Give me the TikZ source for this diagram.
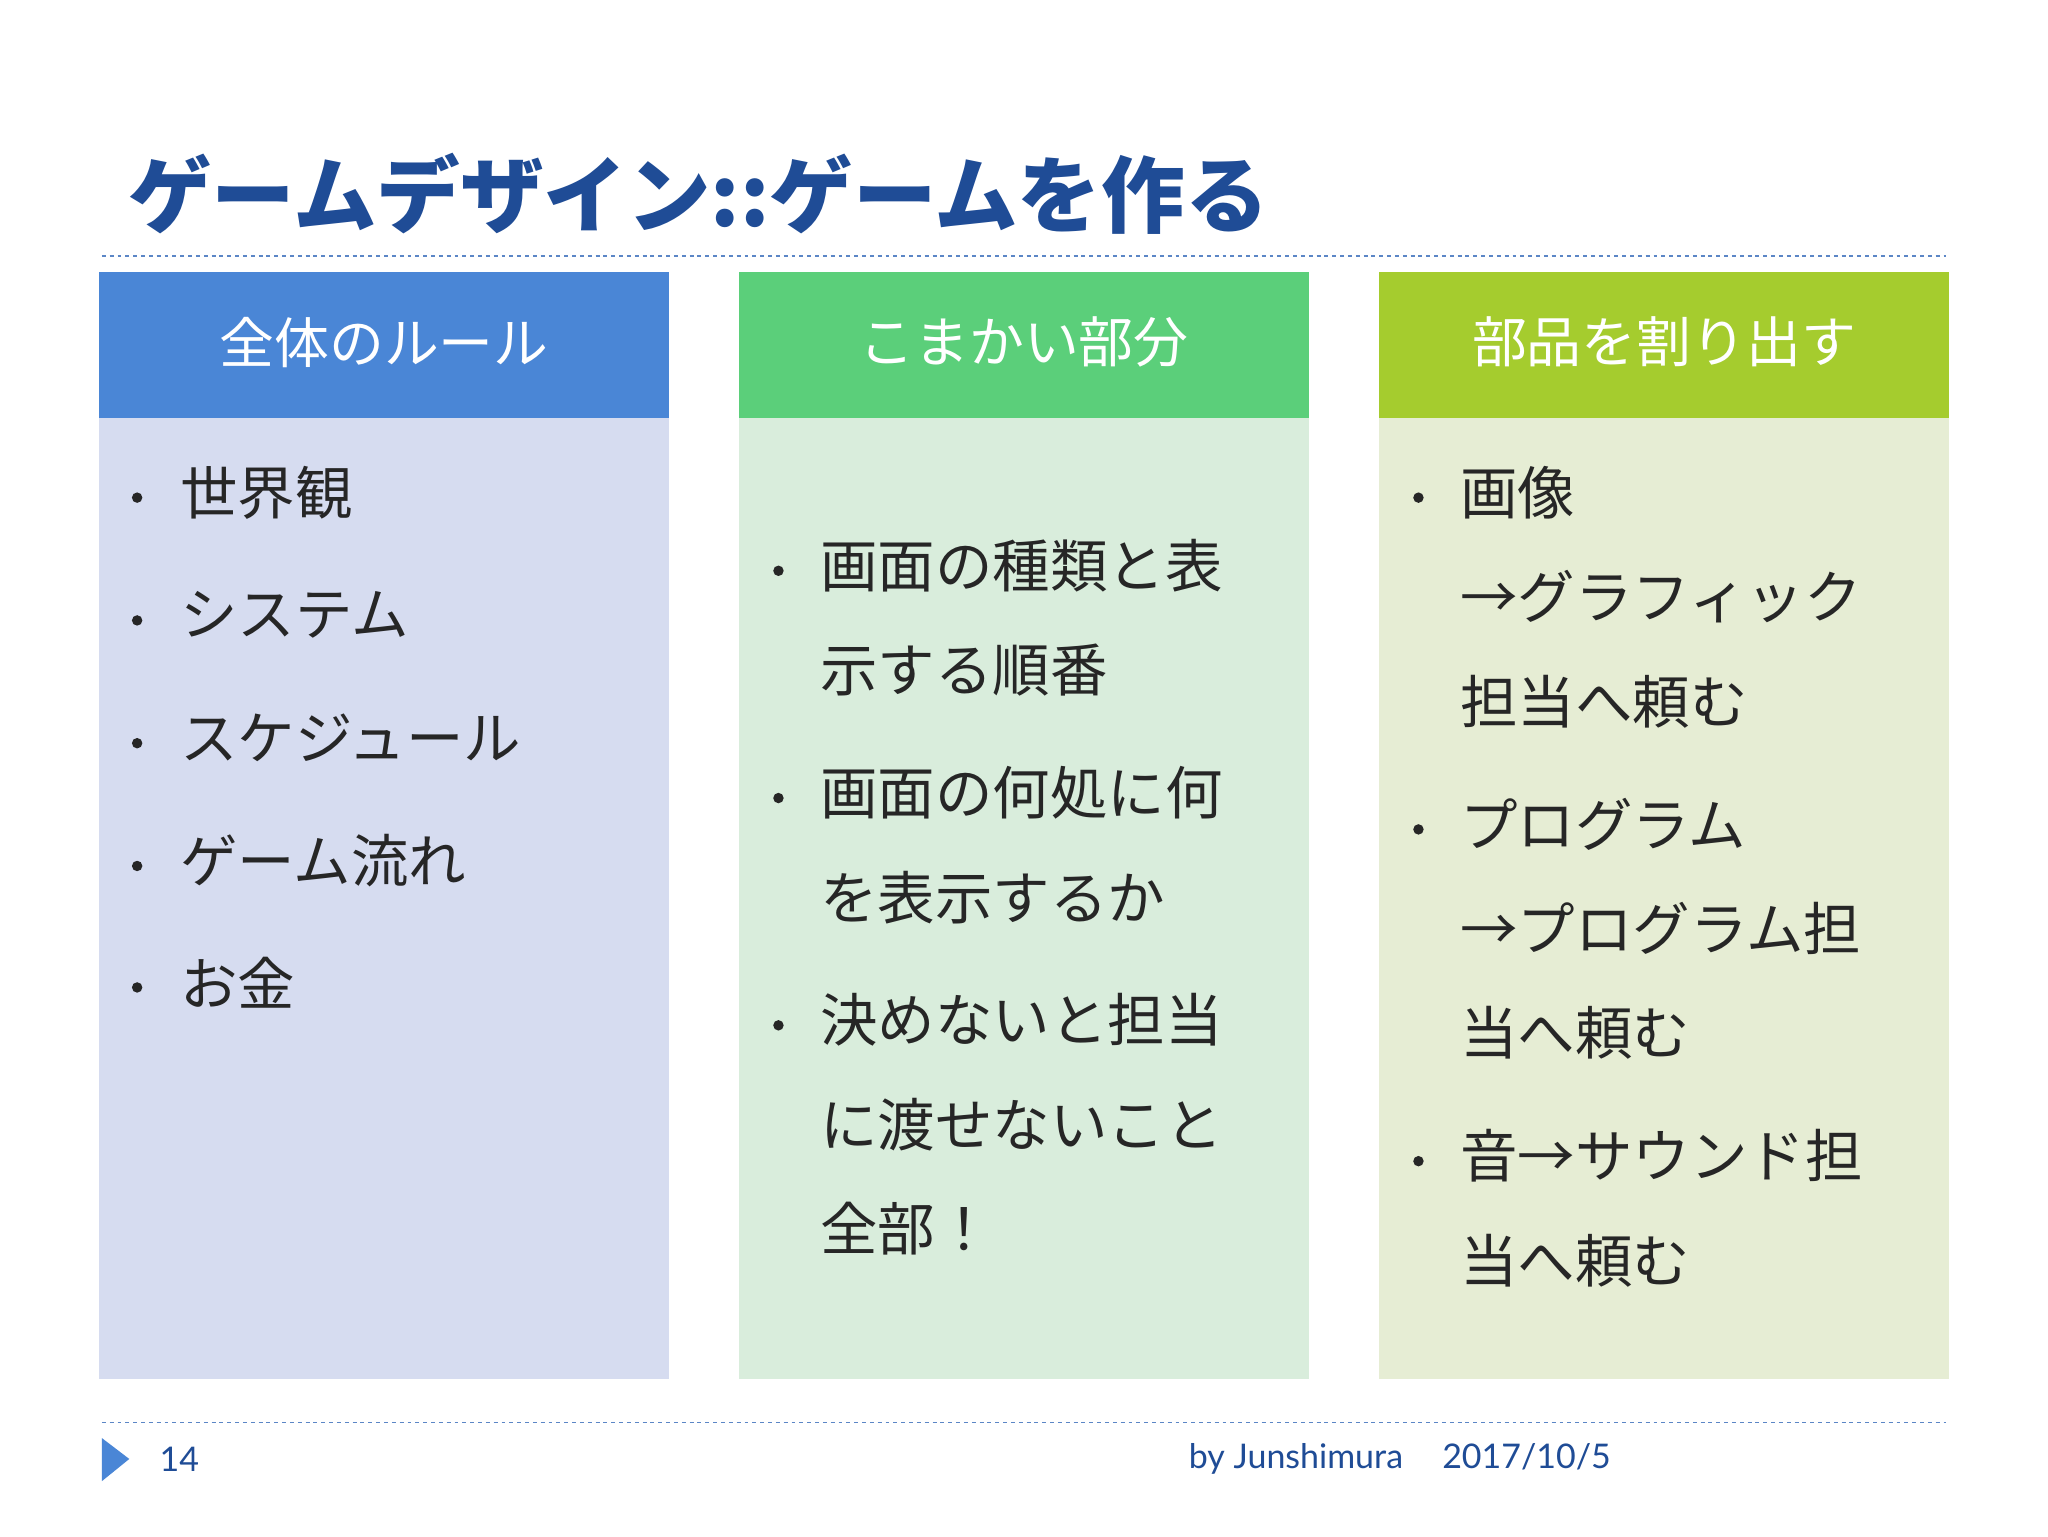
\documentclass[tikz,border=0pt]{standalone}
\usepackage{fontspec}
\setmainfont{Noto Sans CJK JP}
\newfontfamily\foot{Lato}
\definecolor{ttl}{HTML}{1F4C96}
\definecolor{hA}{HTML}{4A86D6}
\definecolor{hB}{HTML}{5BCF7A}
\definecolor{hC}{HTML}{A5CC2E}
\definecolor{bA}{HTML}{D6DCF0}
\definecolor{bB}{HTML}{D9EDDC}
\definecolor{bC}{HTML}{E6EDD4}
\definecolor{dsh}{HTML}{5B86C6}
\begin{document}
\begin{tikzpicture}[x=1pt,y=-1pt,
  hd/.style={text=white,font=\fontsize{42}{46}\selectfont},
  ln/.style={anchor=west,inner sep=0,font=\fontsize{44}{48}\selectfont,text=black!85},
  bl/.style={circle,fill=black!85,inner sep=0,minimum size=8pt}]
\useasboundingbox (0,0) rectangle (1568,1176);
\fill[white] (0,0) rectangle (1568,1176);
\node[anchor=west,inner sep=0,text=ttl,font=\fontsize{64}{68}\selectfont\bfseries] (title) at (98,148) {ゲームデザイン::ゲームを作る};
\draw[dsh,dashed,line width=1.2pt] (78,196) -- (1490,196);
\draw[dsh,dashed,line width=1.2pt] (78,1089) -- (1490,1089);
% columns
\fill[bA] (76,320) rectangle (512,1056);
\fill[hA] (76,208) rectangle (512,320);
\fill[bB] (566,320) rectangle (1002,1056);
\fill[hB] (566,208) rectangle (1002,320);
\fill[bC] (1056,320) rectangle (1492,1056);
\fill[hC] (1056,208) rectangle (1492,320);
\node[hd] (h1) at (294,262) {全体のルール};
\node[hd] (h2) at (784,262) {こまかい部分};
\node[hd] (h3) at (1274,262) {部品を割り出す};
% col1
\foreach \y/\t in {377/世界観,471/システム,565/スケジュール,659/ゲーム流れ,752/お金}{
  \node[bl] at (105,\y+4) {};
  \node[ln] at (138,\y) {\t};}
% col2
\foreach \y in {433,607,781}{\node[bl] at (596,\y+4) {};}
\foreach \y/\t in {433/画面の種類と表,513/示する順番,607/画面の何処に何,687/を表示するか,781/決めないと担当,861/に渡せないこと,941/全部！}{
  \node[ln] at (628,\y) {\t};}
% col3
\foreach \y in {377,631,885}{\node[bl] at (1086,\y+4) {};}
\foreach \y/\t in {377/画像,457/→グラフィック,537/担当へ頼む,631/プログラム,711/→プログラム担,791/当へ頼む,885/音→サウンド担,965/当へ頼む}{
  \node[ln] at (1118,\y) {\t};}
% footer
\fill[hA] (78,1101) -- (99,1117) -- (78,1134) -- cycle;
\node[anchor=west,inner sep=0,font=\foot\fontsize{26}{28}\selectfont,text=ttl] (pg) at (122,1117) {14};
\node[anchor=west,inner sep=0,font=\foot\fontsize{26}{28}\selectfont,text=ttl] (by) at (910,1117) {by Junshimura\hspace{30pt}2017/10/5};
\end{tikzpicture}
\end{document}
